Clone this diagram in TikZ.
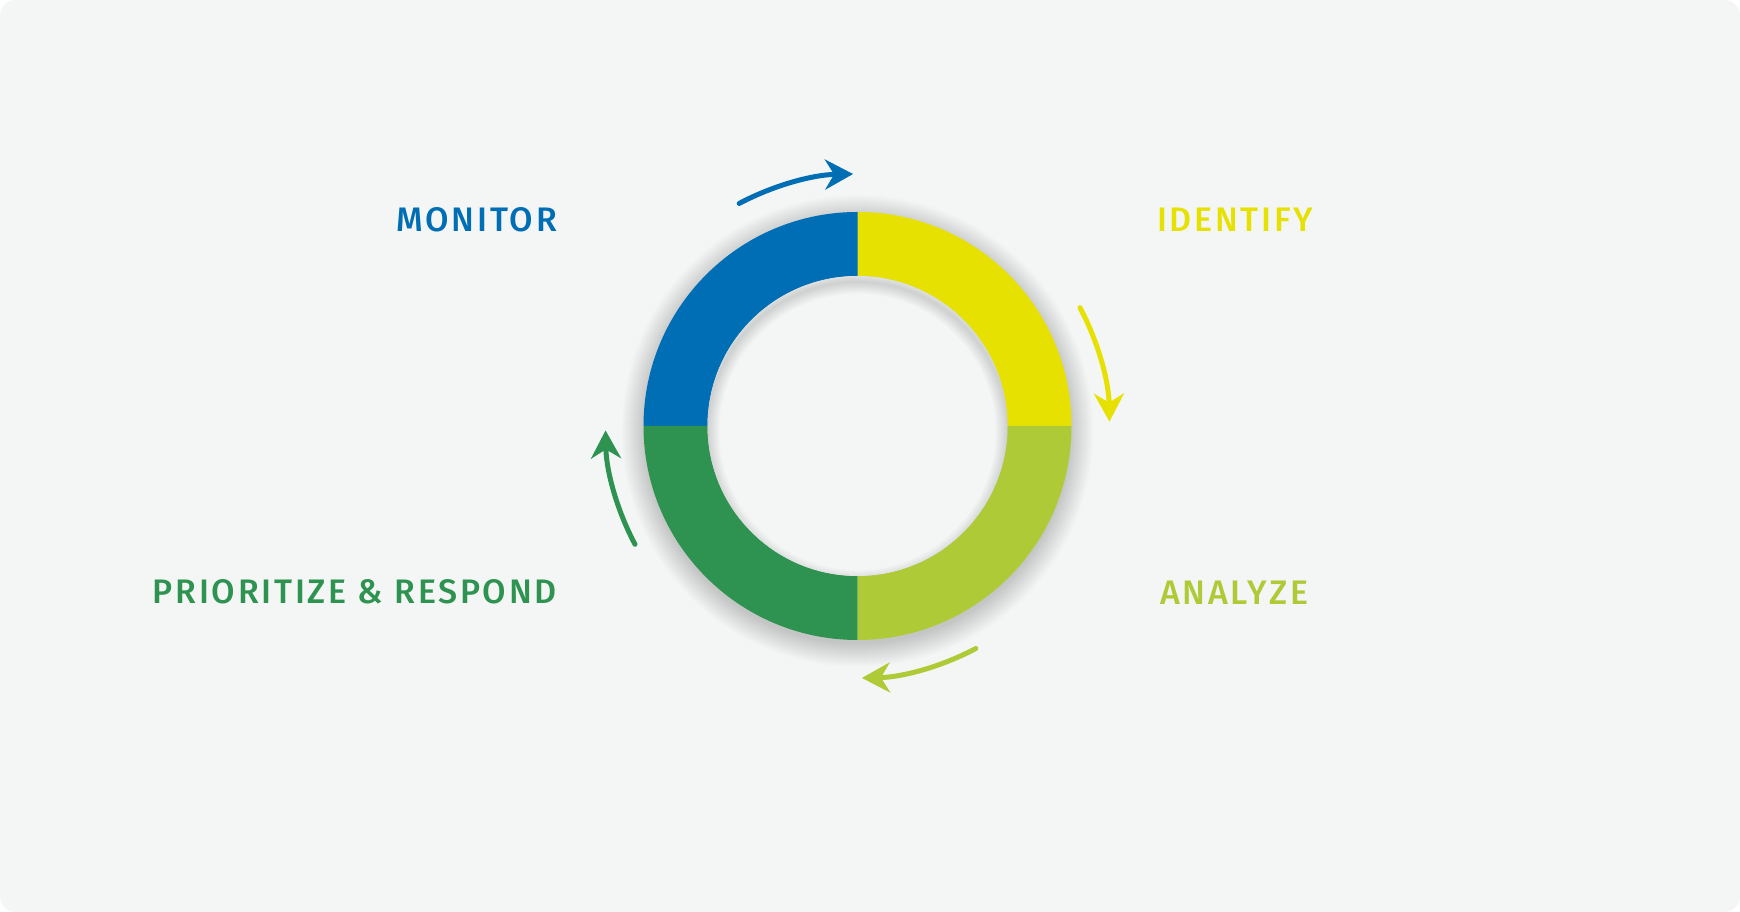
\documentclass[tikz,border=0pt]{standalone}
\usepackage{fontspec}
\newfontfamily\labelfont[LetterSpace=8]{Fira Sans Medium}
\usetikzlibrary{arrows.meta}
\definecolor{pagebg}{HTML}{F4F6F5}
\definecolor{monitorblue}{HTML}{006EB4}
\definecolor{identifyyellow}{HTML}{E6E100}
\definecolor{analyzelime}{HTML}{AFCA37}
\definecolor{respondgreen}{HTML}{2E9350}
\tikzset{
  phase/.style={font=\labelfont\fontsize{34}{34}\selectfont,inner sep=0pt},
  cyclearrow/.style={-{Stealth[length=28pt,width=30pt,inset=9pt]},line width=5pt,line cap=round}
}

\begin{document}
\begin{tikzpicture}[x=1pt,y=1pt]
  \useasboundingbox (0,0) rectangle (1740,912);
  \fill[white] (0,0) rectangle (1740,912);
  \fill[pagebg,rounded corners=16pt] (0,0) rectangle (1740,912);
  \coordinate (hub) at (857.5,486);

  % soft shadow round the ring
  \foreach \i in {24,23,...,1}
    \fill[black,opacity=0.009] ([yshift=-5pt]hub) circle (212+\i);

  % ring quarters
  \foreach \a/\col in {0/identifyyellow,90/monitorblue,180/respondgreen,270/analyzelime}
    \fill[\col,shift={(hub)}] (\a:214) arc[start angle=\a,end angle=\a+90,radius=214]
      -- (\a+90:150) arc[start angle=\a+90,end angle=\a,radius=150] -- cycle;

  % hole with inner shadow
  \fill[pagebg] (hub) circle (150);
  \begin{scope}
    \clip (hub) circle (150);
    \foreach \i in {1,...,12}
      \draw[black,opacity=0.012,line width={2pt*\i}] ([yshift=-6pt]hub) circle (150);
  \end{scope}

  \node[phase,text=monitorblue,anchor=base east] (monitor) at (557,680) {MONITOR};
  \node[phase,text=identifyyellow,anchor=base west] (identify) at (1157,680) {IDENTIFY};
  \node[phase,text=analyzelime,anchor=base west] (analyze) at (1160,307) {ANALYZE};
  \node[phase,text=respondgreen,anchor=base east] (respond) at (557,308) {PRIORITIZE \& RESPOND};

  \coordinate (monitor-from) at ([shift={(118:252)}]hub);
  \coordinate (identify-from) at ([shift={(28:252)}]hub);
  \coordinate (analyze-from) at ([shift={(-62:252)}]hub);
  \coordinate (respond-from) at ([shift={(208:252)}]hub);

  \draw[cyclearrow,monitorblue] (monitor-from) arc[start angle=118,end angle=91,radius=252];
  \draw[cyclearrow,identifyyellow] (identify-from) arc[start angle=28,end angle=1,radius=252];
  \draw[cyclearrow,analyzelime] (analyze-from) arc[start angle=-62,end angle=-89,radius=252];
  \draw[cyclearrow,respondgreen] (respond-from) arc[start angle=208,end angle=181,radius=252];
\end{tikzpicture}
\end{document}
